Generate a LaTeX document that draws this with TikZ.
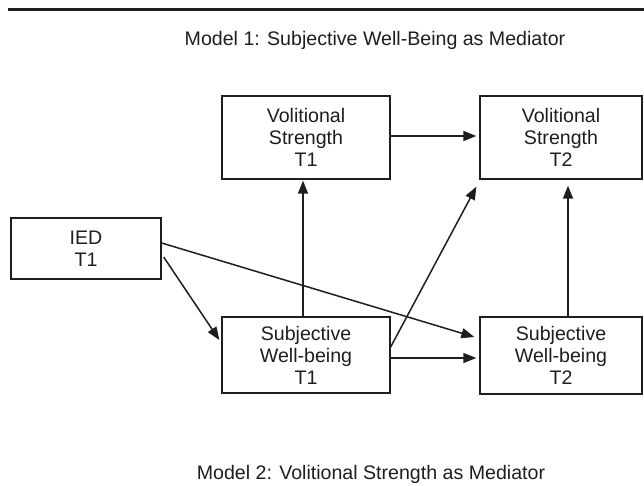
\documentclass[tikz,border=0pt]{standalone}
\usepackage{fontspec}
\setmainfont{Liberation Sans}
\usetikzlibrary{arrows.meta}
\definecolor{ink}{HTML}{1E1E1E}
\tikzset{
  box/.style={draw=ink, line width=1.3pt, align=center, text=ink, inner sep=0pt,
    font=\fontsize{19.6}{22}\selectfont},
  link/.style={draw=ink, line width=1.5pt, -{Triangle[length=13pt,width=10pt]}},
  ttl/.style={text=ink, font=\fontsize{19.6}{22}\selectfont, inner sep=0pt}
}
\begin{document}
\begin{tikzpicture}[x=1pt,y=-1pt]
\useasboundingbox (0,0) rectangle (644,486);
\coordinate (ruleL) at (8,10);
\coordinate (ruleR) at (644,10);
\draw[ink, line width=3pt] (ruleL) -- (ruleR);
\node[ttl] (t1) at (375,40) {Model 1: Subjective Well-Being as Mediator};
\node[ttl] (t2) at (371,474) {Model 2: Volitional Strength as Mediator};

\node[box, minimum width=168pt, minimum height=83pt] (vs1) at (306,137.5) {Volitional\\Strength\\T1};
\node[box, minimum width=162pt, minimum height=83pt] (vs2) at (561,137.5) {Volitional\\Strength\\T2};
\node[box, minimum width=150pt, minimum height=61pt] (ied) at (86,248.5) {IED\\T1};
\node[box, minimum width=168pt, minimum height=76pt] (swb1) at (306,355) {Subjective\\Well-being\\T1};
\node[box, minimum width=162pt, minimum height=77pt] (swb2) at (561,355.5) {Subjective\\Well-being\\T2};

\draw[link, shorten >=3pt] ([yshift=1.5pt]vs1.east) -- ([yshift=1.5pt]vs2.west);
\draw[link] ([xshift=-3pt]swb1.north) -- ([xshift=-3pt,yshift=-1pt]vs1.south);
\draw[link] ([xshift=7pt]swb2.north) -- ([xshift=7pt,yshift=-6pt]vs2.south);
\draw[link] ([yshift=8pt]swb1.east) -- ([xshift=-3pt,yshift=-7pt]vs2.south west);
\draw[link, shorten >=3pt] ([yshift=-3pt]swb1.east) -- ([yshift=-2.5pt]swb2.west);
\draw[link] ([yshift=5.5pt]ied.east) -- ([xshift=-5pt,yshift=18.5pt]swb2.west);
\draw[link] ([xshift=2pt,yshift=-8.5pt]ied.east) -- ([xshift=-2pt,yshift=15pt]swb1.west);
\end{tikzpicture}
\end{document}
